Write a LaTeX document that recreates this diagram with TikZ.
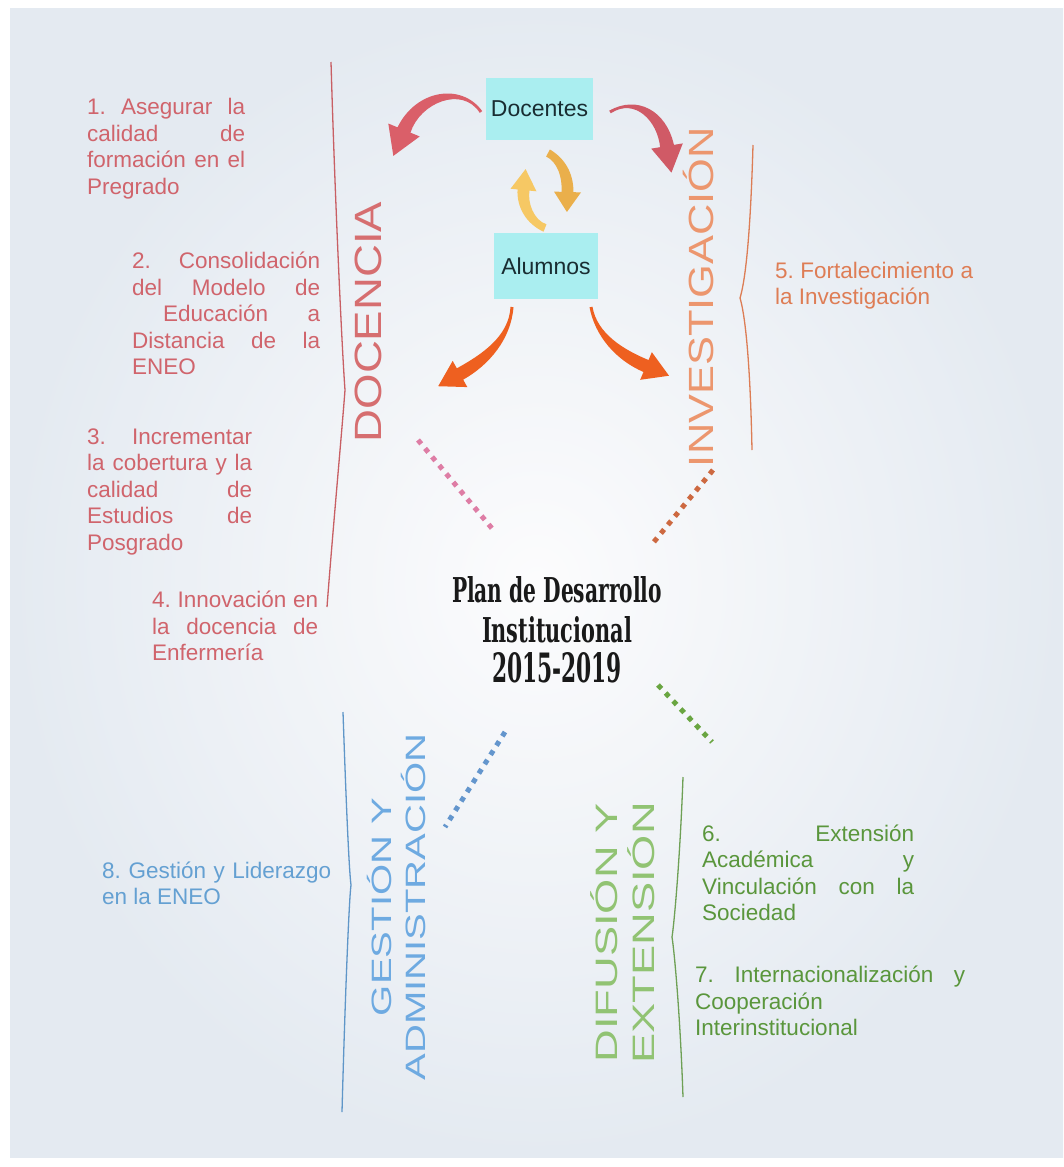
\documentclass[tikz,border=0pt]{standalone}
\usepackage{fontspec}
\usepackage{graphicx}
\setmainfont{Liberation Sans}
\newfontfamily\bigsans{Liberation Sans}
\newfontfamily\titlefont{DejaVu Serif}
\usetikzlibrary{calc}
\definecolor{bgin}{RGB}{252,252,253}
\definecolor{bgout}{RGB}{228,234,241}
\definecolor{boxcyan}{RGB}{170,238,240}
\definecolor{boxtext}{RGB}{25,45,50}
\definecolor{redtxt}{RGB}{208,100,108}
\definecolor{doccol}{RGB}{214,110,112}
\definecolor{bracered}{RGB}{200,95,100}
\definecolor{invcol}{RGB}{236,150,110}
\definecolor{orgtxt}{RGB}{222,125,85}
\definecolor{braceorg}{RGB}{220,125,85}
\definecolor{gescol}{RGB}{110,170,225}
\definecolor{bluetxt}{RGB}{100,160,210}
\definecolor{braceblue}{RGB}{95,150,200}
\definecolor{difcol}{RGB}{145,195,115}
\definecolor{greentxt}{RGB}{90,150,60}
\definecolor{bracegreen}{RGB}{110,160,85}
\definecolor{arrred}{RGB}{218,95,105}
\definecolor{arrred2}{RGB}{208,90,102}
\definecolor{arryel}{RGB}{246,200,100}
\definecolor{arryel2}{RGB}{234,175,75}
\definecolor{arrorg}{RGB}{238,96,32}
\definecolor{dotpink}{RGB}{222,125,165}
\definecolor{dotorg}{RGB}{205,105,65}
\definecolor{dotgreen}{RGB}{105,165,65}
\definecolor{dotblue}{RGB}{100,150,205}
\newcommand{\jl}[2]{\makebox[#1][s]{#2}}
% tapered curved arrow: #1 style, #2 start, #3 c1, #4 c2, #5 head base, #6 half width at head base, #7 head half width, #8 head length, #9 tail half width
\newcommand{\tapered}[9]{%
\fill[#1] ($(#2)!#9!90:(#3)$) .. controls ($(#3)!#9!90:(#4)$) and ($(#4)!#6!-90:(#3)$) .. ($(#5)!#6!-90:(#4)$)
 -- ($(#5)!#7!-90:(#4)$) -- ($(#5)!-#8!(#4)$) -- ($(#5)!#7!90:(#4)$) -- ($(#5)!#6!90:(#4)$)
 .. controls ($(#4)!#6!90:(#3)$) and ($(#3)!#9!-90:(#4)$) .. ($(#2)!#9!-90:(#3)$) -- cycle;}
\begin{document}
\frenchspacing
\begin{tikzpicture}[x=1pt,y=-1pt,
  box/.style={fill=boxcyan, inner sep=0pt, text=boxtext, font=\fontsize{23}{27}\selectfont},
  txt/.style={inner sep=0pt, anchor=north west, align=left, font=\fontsize{22.5}{26.5}\selectfont},
  bigtitle/.style={rotate=90, inner sep=0pt},
  dots/.style={line width=5pt, dash pattern=on 5pt off 6pt},
  bracel/.style={line width=1.3pt}]
\useasboundingbox (0,0) rectangle (1063,1167);
\fill[white] (0,0) rectangle (1063,1167);
\shade[inner color=bgin, outer color=bgout] (10,8) rectangle (1063,1157);

% boxes
\node[box, minimum width=107pt, minimum height=62pt] (doc) at (539.5,109) {Docentes};
\node[box, minimum width=104pt, minimum height=66pt] (alu) at (546,266) {Alumnos};

% central title
\node[inner sep=0pt, align=center, text=black!90, font=\titlefont\bfseries\fontsize{30}{40}\selectfont] (plan) at (557,630)
 {\resizebox{210pt}{26pt}{Plan de Desarrollo}\\\resizebox{150pt}{26pt}{Institucional}\\\resizebox{130pt}{30pt}{2015-2019}};

% big rotated titles
\node[bigtitle, text=doccol, font=\bigsans\fontsize{38}{40}\selectfont] (docencia) at (368.5,322) {\scalebox{1.2}[1]{DOCENCIA}};
\node[bigtitle, anchor=base, text=invcol, font=\bigsans\fontsize{35}{40}\selectfont] (invest) at (713,297) {\scalebox{1.24}[1]{INVESTIGACIÓN}};
\node[bigtitle, text=gescol, font=\bigsans\fontsize{28}{31}\selectfont] (gestion) at (401,907)
 {\scalebox{1.43}[1]{\begin{tabular}{@{}c@{}}GESTIÓN Y\\ADMINISTRACIÓN\end{tabular}}};
\node[bigtitle, text=difcol, font=\bigsans\fontsize{31}{35}\selectfont] (difusion) at (627.5,933)
 {\scalebox{1.46}[1]{\begin{tabular}{@{}c@{}}DIFUSIÓN Y\\EXTENSIÓN\end{tabular}}};

% braces
\draw[bracel, bracered] (331,62) .. controls (335,200) and (342,350) .. (345,390) .. controls (342,430) and (332,540) .. (327,607);
\draw[bracel, braceorg] (753,145) .. controls (750,250) and (744,285) .. (740,298) .. controls (744,311) and (750,350) .. (752,450);
\draw[bracel, braceblue] (343,712) .. controls (346,800) and (349,870) .. (351,885) .. controls (349,900) and (345,1000) .. (342,1112);
\draw[bracel, bracegreen] (683,777) .. controls (680,860) and (674,925) .. (672,937) .. controls (674,949) and (680,1010) .. (683,1097);

% text blocks
\node[txt, text=redtxt] (t1) at (87,98)
 {\jl{158pt}{1. Asegurar la}\\\jl{158pt}{calidad de}\\\jl{158pt}{formación en el}\\Pregrado};
\node[txt, text=redtxt] (t2) at (132,252)
 {\jl{188pt}{2. Consolidación}\\\jl{188pt}{del Modelo de}\\\jl{188pt}{\hspace*{31pt}Educación a}\\\jl{188pt}{Distancia de la}\\ENEO};
\node[txt, text=redtxt] (t3) at (87,428.5)
 {\jl{165pt}{3. Incrementar}\\\jl{165pt}{la cobertura y la}\\\jl{165pt}{calidad de}\\\jl{165pt}{Estudios de}\\Posgrado};
\node[txt, text=redtxt] (t4) at (152,591)
 {\jl{166pt}{4. Innovación en}\\\jl{166pt}{la docencia de}\\Enfermería};
\node[txt, text=orgtxt] (t5) at (775,261.5) {\jl{198pt}{5. Fortalecimiento a}\\la Investigación};
\node[txt, text=greentxt] (t6) at (702,824.5)
 {\jl{212pt}{6. Extensión}\\\jl{212pt}{Académica y}\\\jl{212pt}{Vinculación con la}\\Sociedad};
\node[txt, text=greentxt] (t7) at (695,966)
 {\jl{270pt}{7. Internacionalización y}\\Cooperación\\Interinstitucional};
\node[txt, text=bluetxt] (t8) at (102,861.5) {\jl{229pt}{8. Gestión y Liderazgo}\\en la ENEO};

% dotted connectors
\coordinate (dp1) at (418,440); \coordinate (dp2) at (495,532);
\coordinate (do1) at (713,470); \coordinate (do2) at (653,543);
\coordinate (dg1) at (658,685); \coordinate (dg2) at (712,742);
\coordinate (db1) at (505,732); \coordinate (db2) at (445,827);
\draw[dots, dotpink] (dp1) -- (dp2);
\draw[dots, dotorg] (do1) -- (do2);
\draw[dots, dotgreen] (dg1) -- (dg2);
\draw[dots, dotblue] (db1) -- (db2);

% curved arrows
\coordinate (a1s) at (481,112); \coordinate (a1c) at (462,84); \coordinate (a1d) at (418,96); \coordinate (a1e) at (404,130);
\tapered{arrred}{a1s}{a1c}{a1d}{a1e}{7pt}{17pt}{28pt}{1.5pt}
\coordinate (a2s) at (610,112); \coordinate (a2c) at (636,96); \coordinate (a2d) at (662,116); \coordinate (a2e) at (667,146);
\tapered{arrred2}{a2s}{a2c}{a2d}{a2e}{7pt}{16pt}{27pt}{1.5pt}
\coordinate (a3s) at (545,228); \coordinate (a3c) at (530,222); \coordinate (a3d) at (522,205); \coordinate (a3e) at (523.5,190);
\tapered{arryel}{a3s}{a3c}{a3d}{a3e}{6pt}{13pt}{21pt}{4pt}
\coordinate (a4s) at (548,153); \coordinate (a4c) at (561,160); \coordinate (a4d) at (568,175); \coordinate (a4e) at (567.5,192);
\tapered{arryel2}{a4s}{a4c}{a4d}{a4e}{6pt}{13.5pt}{20pt}{4pt}
\coordinate (a5s) at (512,307); \coordinate (a5c) at (510,338); \coordinate (a5d) at (485,360); \coordinate (a5e) at (460,374);
\tapered{arrorg}{a5s}{a5c}{a5d}{a5e}{6.5pt}{15pt}{25pt}{1.5pt}
\coordinate (a6s) at (591,307); \coordinate (a6c) at (596,335); \coordinate (a6d) at (620,355); \coordinate (a6e) at (646,366);
\tapered{arrorg}{a6s}{a6c}{a6d}{a6e}{6.5pt}{15pt}{25pt}{1.5pt}
\end{tikzpicture}
\end{document}
